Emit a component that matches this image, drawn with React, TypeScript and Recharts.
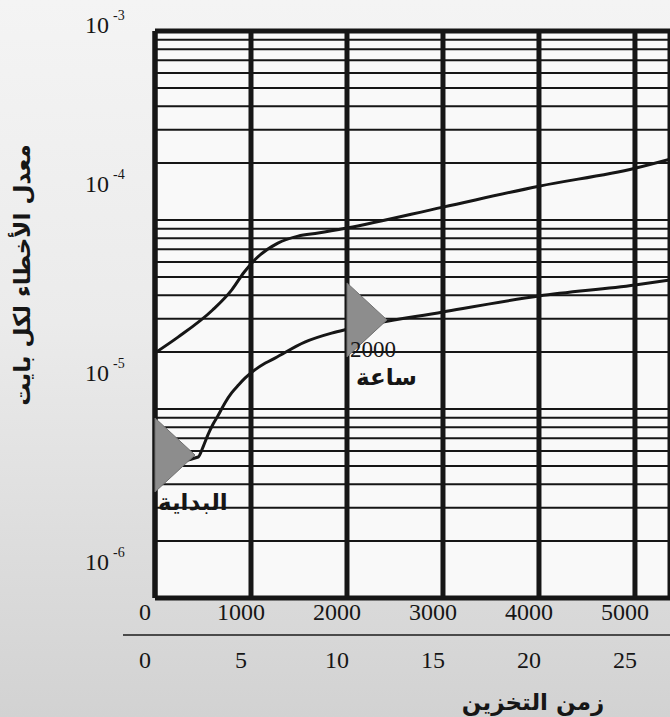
import React from 'react';
import {
  LineChart, Line, XAxis, YAxis, CartesianGrid, ReferenceLine, ReferenceDot, Label,
} from 'recharts';

// hours axis (top row) and the second scale printed under it
const HOURS_MAX = 5365;
const hourTicks = [0, 1000, 2000, 3000, 4000, 5000];
const secondTicks = [0, 5, 10, 15, 20, 25];

// log grid: 1..9 in each decade, plus the top edge
const decades = [1e-6, 1e-5, 1e-4];
const mantissas = [1, 2, 3, 4, 5, 6, 7, 8, 9];
const gridValues = [...decades.flatMap(d => mantissas.map(m => m * d)), 1e-3];

// upper curve
const upperHours = [0, 240, 600, 800, 930, 1070, 1280, 1490, 1700, 2000, 3000, 4000, 5000, 5365];
const upperRate = [1.98e-5, 2.4e-5, 3.34e-5, 4.27e-5, 5.31e-5, 6.37e-5, 7.55e-5, 8.22e-5, 8.53e-5, 9.07e-5, 1.17e-4, 1.51e-4, 1.88e-4, 2.1e-4];

// lower curve
const lowerHours = [0, 450, 500, 550, 600, 660, 730, 800, 870, 940, 1040, 1150, 1250, 1560, 1840, 2000, 3000, 4000, 5000, 5365];
const lowerRate = [5.06e-6, 5.57e-6, 6.29e-6, 7.28e-6, 8.23e-6, 9.29e-6, 1.08e-5, 1.22e-5, 1.34e-5, 1.46e-5, 1.61e-5, 1.75e-5, 1.86e-5, 2.26e-5, 2.52e-5, 2.64e-5, 3.26e-5, 3.96e-5, 4.53e-5, 4.82e-5];

// gray triangle markers and their notes
const markerHours = [0, 2000];
const markerRate = [5.71e-6, 2.96e-5];
const markerNotes = [['البداية'], ['2000', 'ساعة']];
const markerNoteDy = [47, 30];

const yTitle = 'معدل الأخطاء لكل بايت';
const xTitle = 'زمن التخزين';

const upperData = upperHours.map((h, i) => ({ h, v: upperRate[i] }));
const lowerData = lowerHours.map((h, i) => ({ h, v: lowerRate[i] }));

const SERIF = "'Liberation Serif', 'Times New Roman', serif";
const ARABIC = "'DejaVu Sans', sans-serif";
const INK = '#161616';
const serifText = { fontFamily: SERIF };

const YTick = (props: any) => {
  const { x, y, payload } = props;
  const lg = Math.log10(payload.value);
  const exp = Math.round(lg);
  if (Math.abs(lg - exp) > 1e-6) return <g />;
  const ty = Math.max(y - 36, 25);
  return (
    <text x={x - 70} y={ty} dominantBaseline="central" style={serifText} fontSize={24} fill={INK}>
      <tspan>10</tspan>
      <tspan dx={4} dy={-10} fontSize={14}>{exp}</tspan>
    </text>
  );
};

// both label rows hang off the same hour ticks
const XTick = (props: any) => {
  const { x, y, payload, index } = props;
  return (
    <g>
      <text x={x - 10} y={y + 22} textAnchor="middle" style={serifText} fontSize={24} fill={INK}>{payload.value}</text>
      <text x={x - 10} y={y + 70} textAnchor="middle" style={serifText} fontSize={24} fill={INK}>{secondTicks[index]}</text>
    </g>
  );
};

const marker = (i: number) => (props: any) => {
  const { cx, cy } = props;
  const notes = markerNotes[i];
  return (
    <g>
      <polygon points={`${cx},${cy - 37} ${cx + 40},${cy} ${cx},${cy + 37}`} fill="#8d8d8d" stroke="#707070" strokeWidth={1} />
      {notes.map((t, k) => {
        const arabic = /[\u0600-\u06FF]/.test(t);
        return (
          <text key={k} x={cx + (arabic && i > 0 ? 9 : 3)} y={cy + markerNoteDy[i] + k * 27}
            dominantBaseline="central" style={{ fontFamily: arabic ? ARABIC : SERIF }}
            fontWeight={arabic ? 700 : 400} fontSize={23} fill={INK}>
            {t}
          </text>
        );
      })}
    </g>
  );
};

export default function App() {
  return (
    <div style={{
      position: 'absolute', left: 0, top: 0, width: 670, height: 717, overflow: 'hidden',
      background: 'linear-gradient(180deg, #f4f4f4 0%, #ebebeb 45%, #d2d2d2 100%)',
    }}>
      <div style={{ position: 'absolute', left: 123, top: 634, width: 547, height: 2, background: '#4a4a4a' }} />
      <LineChart width={670} height={717} margin={{ top: 31, right: 0, left: 10, bottom: 39 }}>
        <CartesianGrid vertical={false} stroke={INK} strokeWidth={2} fill="#f9f9f9" />
        <CartesianGrid horizontal={false} stroke={INK} strokeWidth={5} />
        <XAxis dataKey="h" type="number" domain={[0, HOURS_MAX]} ticks={hourTicks} interval={0}
          allowDataOverflow height={80} tickSize={0} tickMargin={0} tickLine={false}
          axisLine={{ stroke: INK, strokeWidth: 5 }} tick={<XTick />}>
          <Label content={(p: any) => (
            <text x={p.viewBox.x + 378} y={p.viewBox.y + 104} textAnchor="middle" dominantBaseline="central"
              style={{ fontFamily: ARABIC }} fontWeight={700} fontSize={23} fill={INK}>{xTitle}</text>
          )} />
        </XAxis>
        <YAxis type="number" scale="log" domain={[1e-6, 1e-3]} ticks={gridValues} interval={0}
          allowDataOverflow width={145} tickSize={0} tickMargin={0} tickLine={false}
          axisLine={{ stroke: INK, strokeWidth: 5 }} tick={<YTick />}>
          <Label content={(p: any) => {
            const cx = p.viewBox.x + 12;
            const cy = p.viewBox.y + 244;
            return (
              <text x={cx} y={cy} transform={`rotate(-90 ${cx} ${cy})`} textAnchor="middle"
                dominantBaseline="central" style={{ fontFamily: ARABIC }} fontWeight={700} fontSize={23} fill={INK}>
                {yTitle}
              </text>
            );
          }} />
        </YAxis>
        <ReferenceLine y={1e-3} stroke={INK} strokeWidth={5} />
        {markerHours.map((h, i) => (
          <ReferenceDot key={i} x={h} y={markerRate[i]} ifOverflow="visible" shape={marker(i)} />
        ))}
        <Line data={upperData} dataKey="v" type="monotone" stroke={INK} strokeWidth={3}
          dot={false} isAnimationActive={false} />
        <Line data={lowerData} dataKey="v" type="monotone" stroke={INK} strokeWidth={3}
          dot={false} isAnimationActive={false} />
      </LineChart>
    </div>
  );
}
